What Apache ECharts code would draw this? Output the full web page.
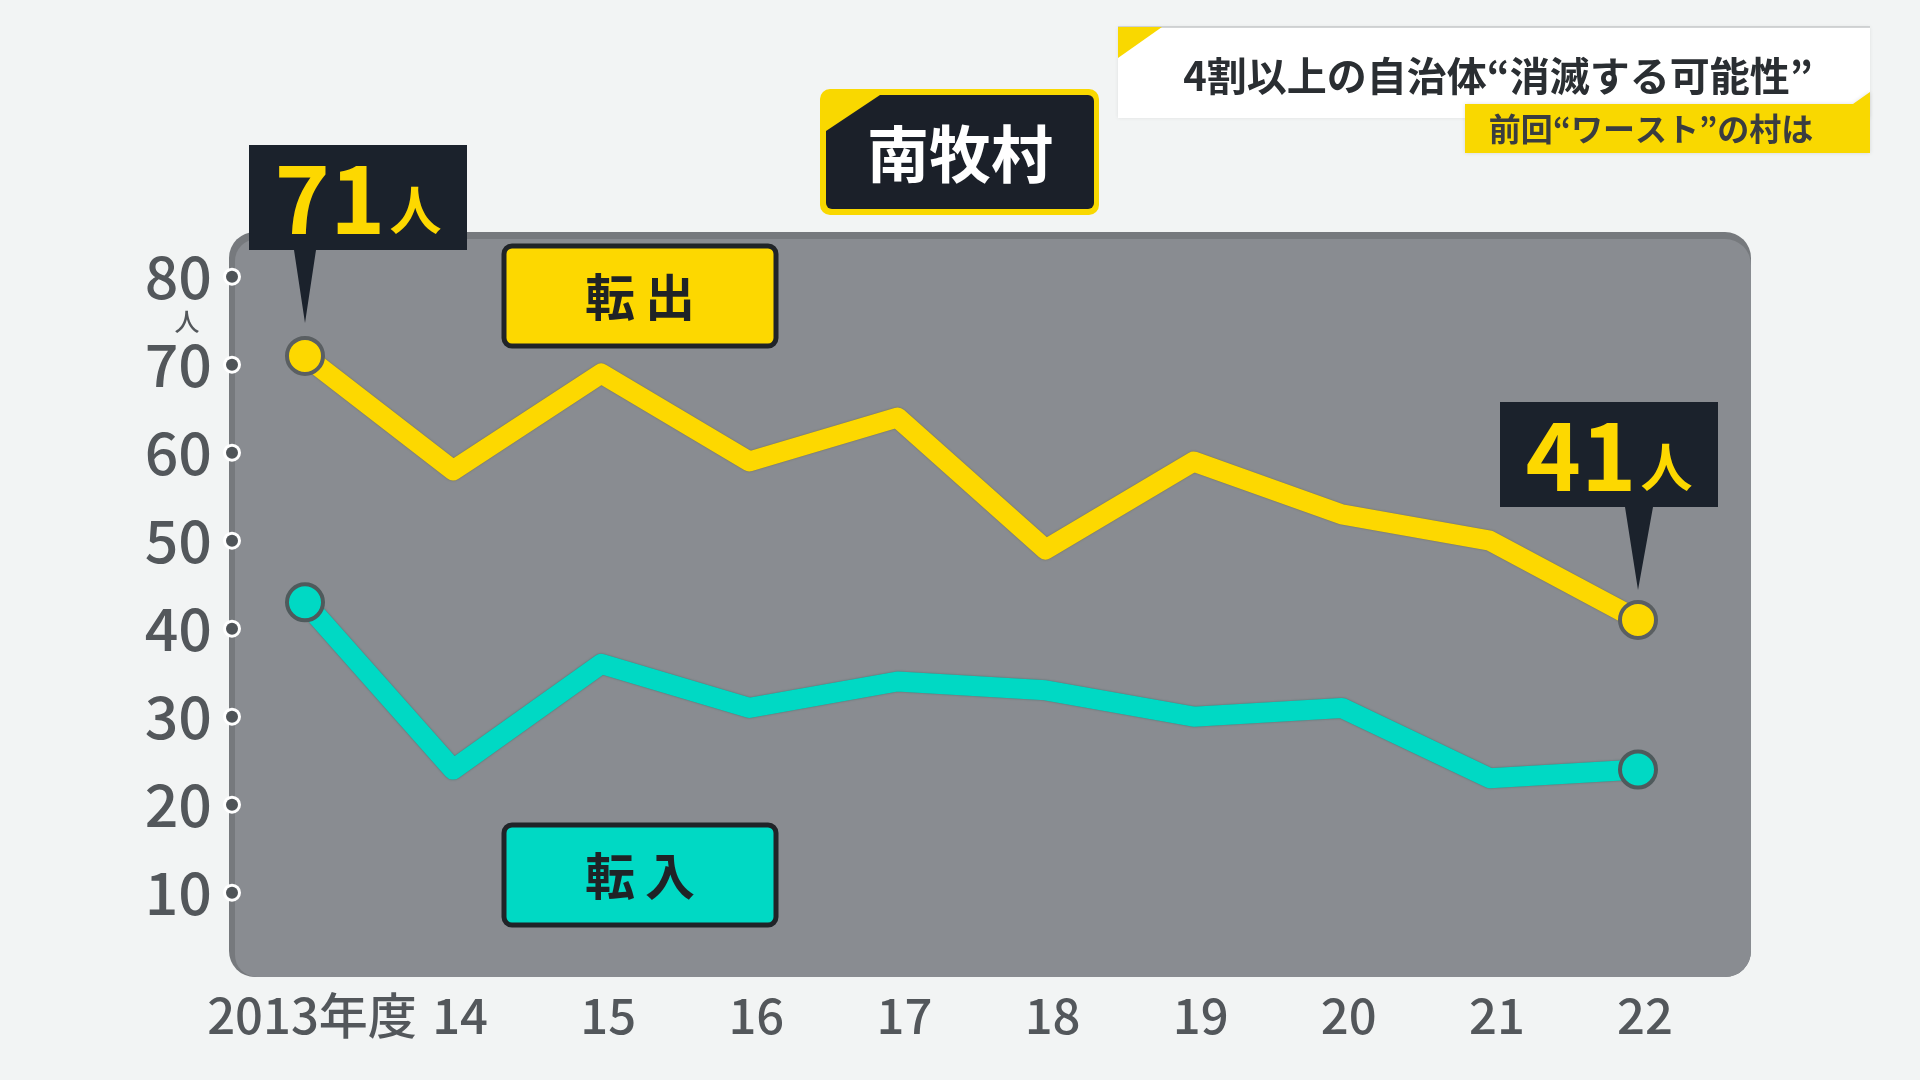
<!DOCTYPE html>
<html><head><meta charset="utf-8">
<script src="https://cdn.jsdelivr.net/npm/echarts/dist/echarts.min.js"></script>
<style>html,body{margin:0;padding:0;background:#f2f4f4}#c{width:1920px;height:1080px}</style>
</head><body><div id="c"></div>
<script>
const categories = ['2013年度','14','15','16','17','18','19','20','21','22'];
const tenshutsu = [71,58,69,59,64,49,59,53,50,41];
const tennyu = [43,24,36,31,34,33,30,31,23,24];
const yTicks = [10,20,30,40,50,60,70,80];
const unitLabel = '人';
const titleText = '南牧村';
const headerText = '4割以上の自治体“消滅する可能性”';
const subHeaderText = '前回“ワースト”の村は';
const seriesNames = ['転出','転入'];

const FONT = '"Noto Sans CJK JP", "Noto Sans", sans-serif';
const YELLOW = '#fdd800';
const TEAL = '#00d9c4';
const DARK = '#1b2029';
const GRAY_TXT = '#53575b';
const last = tenshutsu.length - 1;

const chart = echarts.init(document.getElementById('c'), null, {renderer:'canvas'});

const calloutLabel = {
  show: true,
  formatter: p => '{n|' + p.value + '}{u|' + unitLabel + '}',
  rich: {
    n: {fontSize: 94, fontWeight: 'bold', color: YELLOW, fontFamily: FONT, lineHeight: 100},
    u: {fontSize: 52, fontWeight: 'bold', color: YELLOW, fontFamily: FONT, lineHeight: 100, padding:[24,0,0,4]}
  }
};

const option = {
  backgroundColor: '#f2f4f4',
  animation: false,
  grid: {left: 305, right: 282, top: 232.7, bottom: 99.3, outerBoundsMode: 'none', containLabel: false},
  xAxis: {
    type: 'category', data: categories, boundaryGap: false,
    axisLine: {show: false}, axisTick: {show: false}, splitLine: {show: false},
    axisLabel: {interval: 0, margin: 11, fontSize: 49, fontWeight: 500, lineHeight: 48, color: GRAY_TXT, fontFamily: FONT, padding: [0,0,0,14]}
  },
  yAxis: {
    type: 'value', min: 0, max: 85, interval: 10,
    axisLine: {show: false}, axisTick: {show: false}, splitLine: {show: false},
    axisLabel: {
      margin: 67,
      formatter: v => yTicks.includes(v) ? '{v|' + v + '}{d|}' : '',
      rich: {
        v: {fontSize: 59, fontWeight: 500, color: GRAY_TXT, fontFamily: FONT, padding: [0,14,0,0]},
        d: {width: 12, height: 12, borderRadius: 6, backgroundColor: '#4f5458', borderColor: '#ffffff', borderWidth: 3}
      }
    }
  },
  graphic: [
    {type:'rect', z:0, shape:{x:229,y:232,width:1522,height:745,r:26}, style:{fill:'#76797d'}, silent:true},
    {type:'rect', z:0, shape:{x:235,y:239,width:1516,height:738,r:[22,26,26,22]}, style:{fill:'#898c91'}, silent:true},
    // legend boxes
    {type:'rect', z:50, shape:{x:504,y:246,width:272,height:100,r:8}, style:{fill:YELLOW, stroke:'#202428', lineWidth:5}},
    {type:'text', z:51, x:640, y:297, style:{text: seriesNames[0].split('').join('\u2009'), font:'bold 50px ' + FONT, fill:'#1f2326', textAlign:'center', textVerticalAlign:'middle'}},
    {type:'rect', z:50, shape:{x:504,y:825,width:272,height:100,r:8}, style:{fill:TEAL, stroke:'#202428', lineWidth:5}},
    {type:'text', z:51, x:640, y:876, style:{text: seriesNames[1].split('').join('\u2009'), font:'bold 50px ' + FONT, fill:'#1f2326', textAlign:'center', textVerticalAlign:'middle'}},
    // y unit
    {type:'text', z:51, x:187, y:321, style:{text: unitLabel, font:'500 25px ' + FONT, fill:GRAY_TXT, textAlign:'center', textVerticalAlign:'middle'}},
    // title
    {type:'rect', z:50, shape:{x:820,y:89,width:279,height:126,r:10}, style:{fill:'#f9d800'}},
    {type:'rect', z:51, shape:{x:826,y:95,width:268,height:114,r:6}, style:{fill:DARK}},
    {type:'polygon', z:52, shape:{points:[[826,95],[880,95],[826,131]]}, style:{fill:'#f9d800'}},
    {type:'text', z:53, x:960, y:154, style:{text: titleText, font:'bold 62px ' + FONT, fill:'#ffffff', textAlign:'center', textVerticalAlign:'middle'}},
    // header
    {type:'rect', z:50, shape:{x:1118,y:27,width:752,height:91}, style:{fill:'#ffffff', shadowBlur:4, shadowColor:'rgba(0,0,0,0.08)'}},
    {type:'line', z:51, shape:{x1:1118,y1:27,x2:1870,y2:27}, style:{stroke:'#c4c7c9', lineWidth:1.5}},
    {type:'polygon', z:52, shape:{points:[[1118,27],[1162,27],[1118,58]]}, style:{fill:'#f9d800'}},
    {type:'text', z:53, x:1498, y:76, style:{text: headerText, font:'bold 40px ' + FONT, fill:'#2a2e32', textAlign:'center', textVerticalAlign:'middle'}},
    {type:'polygon', z:54, shape:{points:[[1465,104],[1853,104],[1870,92],[1870,153],[1465,153]]}, style:{fill:'#f9d800', shadowBlur:4, shadowColor:'rgba(0,0,0,0.12)'}},
    {type:'text', z:55, x:1651, y:129, style:{text: subHeaderText, font:'bold 32px ' + FONT, fill:'#3a3d40', textAlign:'center', textVerticalAlign:'middle'}}
  ],
  series: [
    {
      name: seriesNames[0], type: 'line', data: tenshutsu, z: 5,
      symbol: 'circle',
      symbolSize: (v, p) => (p.dataIndex === 0 || p.dataIndex === last) ? 36 : 0,
      lineStyle: {width: 20, color: YELLOW, cap: 'round', join: 'round', shadowBlur: 2, shadowColor: 'rgba(90,80,0,0.5)'},
      itemStyle: {color: YELLOW, borderColor: '#5a5f62', borderWidth: 4},
      emphasis: {disabled: true},
      markPoint: {
        silent: true, z: 20,
        itemStyle: {color: '#1b222c'},
        label: calloutLabel,
        data: [
          {coord: [0, tenshutsu[0]], value: tenshutsu[0],
           symbol: 'path://M0 0H218V105H67L56 178L45 105H0Z', symbolSize: [218,178], symbolOffset: [53,-122],
           label: {offset: [0,-36]}},
          {coord: [last, tenshutsu[last]], value: tenshutsu[last],
           symbol: 'path://M0 0H218V105H153L138 188L125 105H0Z', symbolSize: [218,188], symbolOffset: [-29,-124],
           label: {offset: [0,-41]}}
        ]
      }
    },
    {
      name: seriesNames[1], type: 'line', data: tennyu, z: 4,
      symbol: 'circle',
      symbolSize: (v, p) => (p.dataIndex === 0 || p.dataIndex === last) ? 36 : 0,
      lineStyle: {width: 20, color: TEAL, cap: 'round', join: 'round', shadowBlur: 2, shadowColor: 'rgba(0,80,70,0.5)'},
      itemStyle: {color: TEAL, borderColor: '#4f5a5c', borderWidth: 4},
      emphasis: {disabled: true}
    }
  ]
};
chart.setOption(option);
</script></body></html>
